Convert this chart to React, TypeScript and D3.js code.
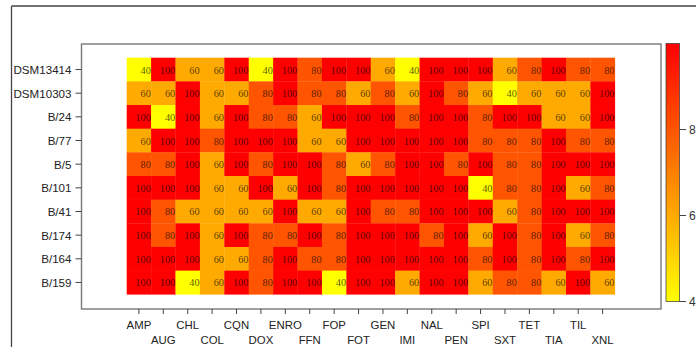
import React from "react";
import * as d3 from "d3";

const drugs = ["AMP","AUG","CHL","COL","CQN","DOX","ENRO","FFN","FOP","FOT","GEN","IMI","NAL","PEN","SPI","SXT","TET","TIA","TIL","XNL"];
const strains = ["DSM13414","DSM10303","B/24","B/77","B/5","B/101","B/41","B/174","B/164","B/159"];

const rowDSM13414 = [40,100,60,60,100,40,100,80,100,100,60,40,100,100,100,60,80,100,80,80];
const rowDSM10303 = [60,60,100,60,60,80,100,80,80,60,80,60,100,80,60,40,60,60,60,100];
const rowB24 = [100,40,100,60,100,80,80,60,100,100,100,80,100,100,80,100,100,60,60,100];
const rowB77 = [60,100,100,80,100,100,100,60,60,100,100,100,100,100,80,80,80,100,80,80];
const rowB5 = [80,80,100,60,100,80,100,100,80,60,80,100,100,80,100,80,80,100,100,100];
const rowB101 = [100,100,100,60,60,100,60,100,80,100,100,100,100,100,40,80,80,100,60,80];
const rowB41 = [100,80,60,60,60,60,100,60,60,100,80,80,100,100,100,60,80,100,100,100];
const rowB174 = [100,80,100,60,100,80,80,100,80,100,100,100,80,100,60,100,80,100,60,80];
const rowB164 = [100,100,100,60,60,80,100,80,80,100,100,100,100,100,80,100,80,100,80,100];
const rowB159 = [100,100,40,60,100,80,100,100,40,100,100,60,100,100,60,80,80,60,100,60];

const values = [rowDSM13414,rowDSM10303,rowB24,rowB77,rowB5,rowB101,rowB41,rowB174,rowB164,rowB159];
const legendTicks = [40,60,80];

export default function App() {
  const W = 696, H = 347;
  const x = d3.scaleBand().domain(drugs).range([126.7, 614.8]).padding(0);
  const y = d3.scaleBand().domain(strains).range([57.7, 294.3]).padding(0);
  const color = d3.scaleLinear<string>().domain([40, 100]).range(["#ffff00", "#ff0000"]);
  const cb = d3.scaleLinear().domain([40, 100]).range([301.5, 43.5]);
  const box = { x0: 81.5, y0: 44, x1: 661, y1: 309 };
  const sans = "Liberation Sans, Arial, sans-serif";
  const serif = "Liberation Serif, Times New Roman, serif";

  return (
    <svg width={W} height={H} style={{ position: "absolute", left: 0, top: 0, background: "#fff" }}>
      <defs>
        <linearGradient id="cbg" x1="0" y1="1" x2="0" y2="0">
          <stop offset="0%" stopColor={color(40)} />
          <stop offset="100%" stopColor={color(100)} />
        </linearGradient>
      </defs>
      {/* outer panel frame */}
      <line x1={11.5} y1={6} x2={W} y2={6} stroke="#444" strokeWidth={1.3} />
      <line x1={11.5} y1={6} x2={11.5} y2={H} stroke="#444" strokeWidth={1.3} />
      {/* heatmap cells */}
      {values.map((row, ri) =>
        row.map((v, ci) => (
          <rect key={`c${ri}-${ci}`} x={x(drugs[ci])!} y={y(strains[ri])!} width={x.bandwidth() + 0.3} height={y.bandwidth() + 0.3} fill={color(v)} />
        ))
      )}
      {values.map((row, ri) =>
        row.map((v, ci) => (
          <text key={`t${ri}-${ci}`} x={x(drugs[ci])! + x.bandwidth() - 0.3} y={y(strains[ri])! + y.bandwidth() / 2 + 0.5}
            textAnchor="end" dominantBaseline="central" fontFamily={serif} fontSize={10.3} fill="#000" fillOpacity={0.68}>
            {v}
          </text>
        ))
      )}
      {/* inner box */}
      <rect x={box.x0} y={box.y0} width={box.x1 - box.x0} height={box.y1 - box.y0} fill="none" stroke="#777" strokeWidth={1.4} />
      {/* y axis */}
      {strains.map((s) => {
        const yc = y(s)! + y.bandwidth() / 2;
        return (
          <g key={s}>
            <line x1={box.x0 - 6} x2={box.x0} y1={yc} y2={yc} stroke="#444" strokeWidth={1} />
            <text x={box.x0 - 10} y={yc} textAnchor="end" dominantBaseline="central" fontFamily={sans} fontSize={11.6} fill="#222">{s}</text>
          </g>
        );
      })}
      {/* x axis */}
      {drugs.map((d, i) => {
        const xc = x(d)! + x.bandwidth() / 2;
        return (
          <g key={d}>
            <line x1={xc} x2={xc} y1={box.y1} y2={box.y1 + 5} stroke="#444" strokeWidth={1} />
            <text x={xc} y={i % 2 === 0 ? 325 : 340} textAnchor="middle" dominantBaseline="central" fontFamily={sans} fontSize={11.4} fill="#222">{d}</text>
          </g>
        );
      })}
      {/* color bar */}
      <rect x={666} y={cb(100)} width={13.5} height={cb(40) - cb(100)} fill="url(#cbg)" stroke="#333" strokeOpacity={0.7} strokeWidth={1} />
      {legendTicks.map((t) => (
        <g key={t}>
          <line x1={679.5} x2={686} y1={cb(t)} y2={cb(t)} stroke="#444" strokeWidth={1} />
          <text x={689} y={cb(t)} dominantBaseline="central" fontFamily={sans} fontSize={12} fill="#333">{t}</text>
        </g>
      ))}
    </svg>
  );
}
